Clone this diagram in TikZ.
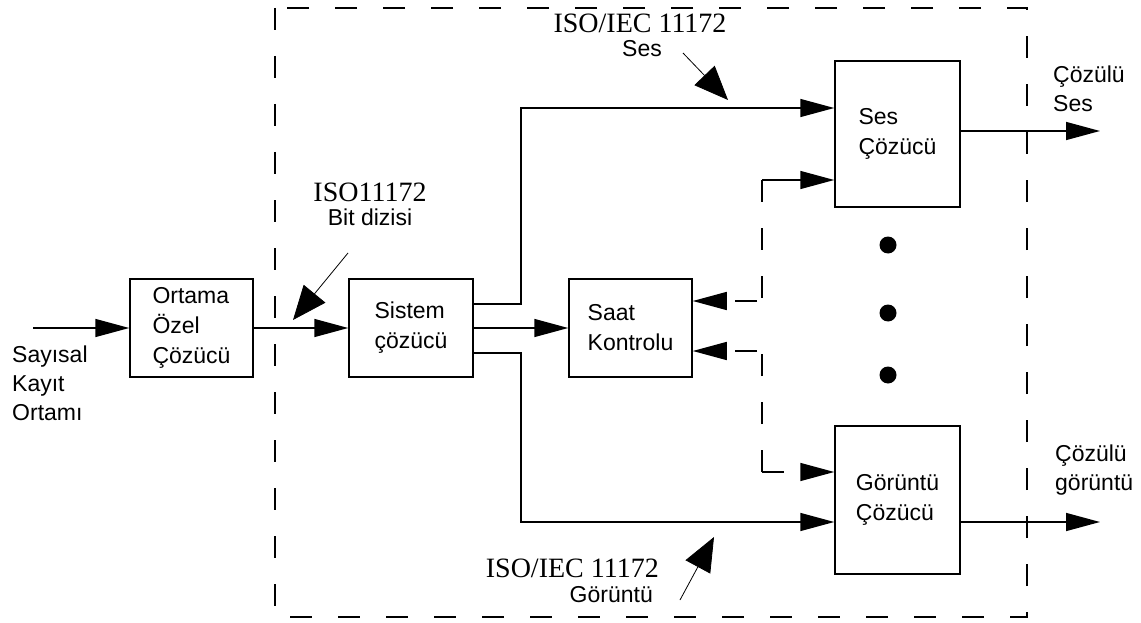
\documentclass[tikz,border=0pt]{standalone}
\usepackage{fontspec}
\setmainfont{Liberation Serif}
\setsansfont{Liberation Sans}
\usetikzlibrary{arrows.meta,calc}

\tikzset{
  kutu/.style={draw, line width=1.5pt, inner sep=0pt, align=left,
    font=\sffamily\fontsize{23}{30}\selectfont},
  hat/.style={line width=1.5pt, -{Triangle[length=34pt,width=18pt]}},
  kesik/.style={line width=1.5pt, dash pattern=on 22pt off 26pt},
  kisa/.style={hat, dash pattern=on 22pt off 14pt, dash phase=31pt},
  isaret/.style={line width=0.8pt, -{Triangle[length=34pt,width=28pt]}},
  etiket/.style={font=\sffamily\fontsize{23}{29}\selectfont, inner sep=0pt, align=left},
  iso/.style={font=\fontsize{28}{30}\selectfont, inner sep=0pt}
}

\begin{document}
\begin{tikzpicture}[x=1pt,y=-1pt]
  \useasboundingbox (0,0) rectangle (1141,623);
  \draw[kesik] (275,8) rectangle (1027,617);

  % bloklar
  \node[kutu, minimum width=123pt, minimum height=98pt] (ort) at (191.5,328) {Ortama\\Özel\\Çözücü};
  \node[kutu, minimum width=124pt, minimum height=98pt] (sis) at (411,328) {Sistem\\çözücü};
  \node[kutu, minimum width=123pt, minimum height=98pt] (saat) at (630.5,328) {Saat\\Kontrolu};
  \node[kutu, minimum width=125pt, minimum height=146pt] (ses) at (897.5,134) {Ses\\Çözücü};
  \node[kutu, minimum width=125pt, minimum height=148pt] (gor) at (897.5,500) {Görüntü\\Çözücü};

  % etiketler
  \node[iso, anchor=base] (isoses) at (640,33) {ISO/IEC 11172};
  \node[etiket, anchor=base] (sesetk) at (642,57) {Ses};
  \node[iso, anchor=base] (isobit) at (370,201) {ISO11172};
  \node[etiket, anchor=base] (bitetk) at (370,225) {Bit dizisi};
  \node[iso, anchor=base east] (isogor) at (659,577) {ISO/IEC 11172};
  \node[etiket, anchor=base east] (goretk) at (653,602) {Görüntü};
  \node[etiket, anchor=base west] (kayit) at (12,420) {Sayısal\\Kayıt\\Ortamı};
  \node[etiket, anchor=base west] (cses) at (1053,112) {Çözülü\\Ses};
  \node[etiket, anchor=base west] (cgor) at (1055,490) {Çözülü\\görüntü};

  \coordinate (giris) at (33,328);
  \coordinate (k1) at (521,108);
  \coordinate (k2) at (521,522);
  \coordinate (o1) at (1100,131);
  \coordinate (o2) at (1100,522);
  \coordinate (s1) at (762,301);
  \coordinate (s2) at (762,351);
  \coordinate (u1) at (762,180);
  \coordinate (u2) at (762,472);

  % veri yollari
  \draw[hat] (giris) -- (ort.west);
  \draw[hat] (ort.east) -- (sis.west);
  \draw[hat] (sis.east) -- (saat.west);
  \draw[hat] ([yshift=24pt]sis.east) -| (k1) -- (ses.west |- k1);
  \draw[hat] ([yshift=-25pt]sis.east) -| (k2) -- (gor.west |- k2);
  \draw[hat] (ses.east |- o1) -- (o1);
  \draw[hat] (gor.east |- o2) -- (o2);

  % saat hatlari
  \draw[hat] (u1) -- (ses.west |- u1);
  \draw[kesik] (u1) -- (s1);
  \draw[kisa] (s1) -- (saat.east |- s1);
  \draw[kesik] (u2) -- (s2);
  \draw[kisa] (s2) -- (saat.east |- s2);
  \draw[kesik, hat] (u2) -- (gor.west |- u2);

  \foreach \y in {245,313,375}
    \fill (888,\y) circle (8.5pt);

  % isaret oklari
  \coordinate (p1) at (683,53);  \coordinate (p1u) at (728,100);
  \coordinate (p2) at (348,253); \coordinate (p2u) at (293,320);
  \coordinate (p3) at (680,600); \coordinate (p3u) at (714,537);
  \draw[isaret] (p1) -- (p1u);
  \draw[isaret] (p2) -- (p2u);
  \draw[isaret] (p3) -- (p3u);
\end{tikzpicture}
\end{document}
